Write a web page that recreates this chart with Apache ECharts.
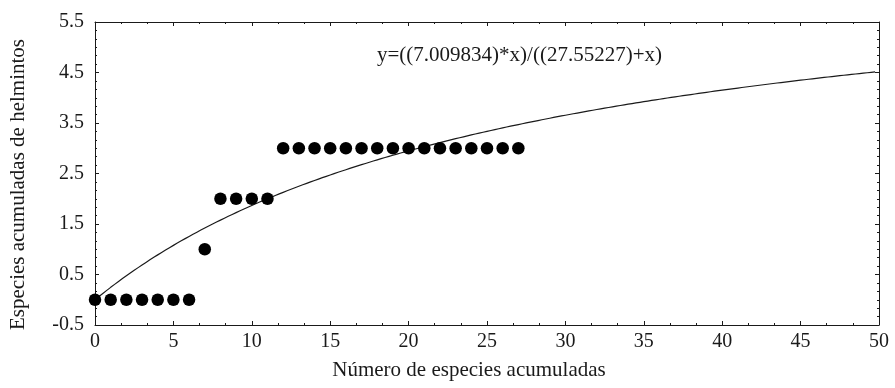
<!DOCTYPE html>
<html>
<head>
<meta charset="utf-8">
<script src="https://cdn.jsdelivr.net/npm/echarts@6/dist/echarts.min.js"></script>
<style>
  html, body { margin: 0; padding: 0; background: #fff; }
  #chart { width: 895px; height: 388px; }
</style>
</head>
<body>
<div id="chart"></div>
<script>
// Observed cumulative species counts
const speciesAccum = [0, 1, 2, 3, 4, 5, 6, 7, 8, 9, 10, 11, 12, 13, 14, 15, 16, 17, 18, 19, 20, 21, 22, 23, 24, 25, 26, 27];
const helminthAccum = [0, 0, 0, 0, 0, 0, 0, 1, 2, 2, 2, 2, 3, 3, 3, 3, 3, 3, 3, 3, 3, 3, 3, 3, 3, 3, 3, 3];

// Fitted saturation model y = a*x/(b + x), parameters as printed on the chart
const fitA = 7.009834;
const fitB = 27.55227;
const fitXEnd = 49.75;
const fitLabel = 'y=((7.009834)*x)/((27.55227)+x)';

const xTitle = 'Número de especies acumuladas';
const yTitle = 'Especies acumuladas de helmintos';

const fitCurve = [];
for (let i = 0; i <= 199; i++) {
  const x = Math.min(i * 0.25, fitXEnd);
  fitCurve.push([x, fitA * x / (fitB + x)]);
}

const points = speciesAccum.map((x, i) => [x, helminthAccum[i]]);

const FONT = '"Liberation Serif", "Times New Roman", serif';
const INK = '#1a1a1a';

const chart = echarts.init(document.getElementById('chart'), null, { renderer: 'canvas' });

const frameAxis = {
  axisLine: { show: true, onZero: false, lineStyle: { color: INK, width: 1 } },
  axisTick: { show: true, inside: true, length: 4, lineStyle: { color: INK, width: 1 } },
  minorTick: { show: true, length: 2, lineStyle: { color: INK, width: 1 } },
  splitLine: { show: false }
};

chart.setOption({
  animation: false,
  backgroundColor: '#fff',
  grid: { left: 93, right: 16, top: 22, bottom: 63, containLabel: false },
  xAxis: [
    Object.assign({}, frameAxis, {
      type: 'value', min: 0, max: 50, interval: 5, position: 'bottom',
      minorTick: Object.assign({}, frameAxis.minorTick, { splitNumber: 3 }),
      axisLabel: { color: INK, fontFamily: FONT, fontSize: 20, margin: 7 },
      name: xTitle, nameLocation: 'middle', nameGap: 35,
      nameTextStyle: { color: INK, fontFamily: FONT, fontSize: 21, padding: [0, 36, 0, 0] }
    }),
    Object.assign({}, frameAxis, {
      type: 'value', min: 0, max: 50, interval: 5, position: 'top',
      minorTick: Object.assign({}, frameAxis.minorTick, { splitNumber: 3 }),
      axisLabel: { show: false }
    })
  ],
  yAxis: [
    Object.assign({}, frameAxis, {
      type: 'value', min: -0.5, max: 5.5, interval: 1, position: 'left',
      minorTick: Object.assign({}, frameAxis.minorTick, { splitNumber: 6 }),
      axisLabel: { color: INK, fontFamily: FONT, fontSize: 20, margin: 11 },
      name: yTitle, nameLocation: 'middle', nameGap: 66, nameRotate: 90,
      nameTextStyle: { color: INK, fontFamily: FONT, fontSize: 21, padding: [0, 22, 0, 0] }
    }),
    Object.assign({}, frameAxis, {
      type: 'value', min: -0.5, max: 5.5, interval: 1, position: 'right',
      minorTick: Object.assign({}, frameAxis.minorTick, { splitNumber: 6 }),
      axisLabel: { show: false }
    })
  ],
  graphic: [{
    type: 'text',
    left: 377, top: 45,
    style: { text: fitLabel, fill: INK, font: '21px ' + FONT }
  }],
  series: [
    {
      type: 'line', data: fitCurve, showSymbol: false, smooth: false,
      lineStyle: { color: INK, width: 1.2 }, z: 2, silent: true
    },
    {
      type: 'scatter', data: points, symbol: 'circle', symbolSize: 12.5,
      itemStyle: { color: '#000', opacity: 1 }, z: 3
    }
  ]
});
</script>
</body>
</html>
